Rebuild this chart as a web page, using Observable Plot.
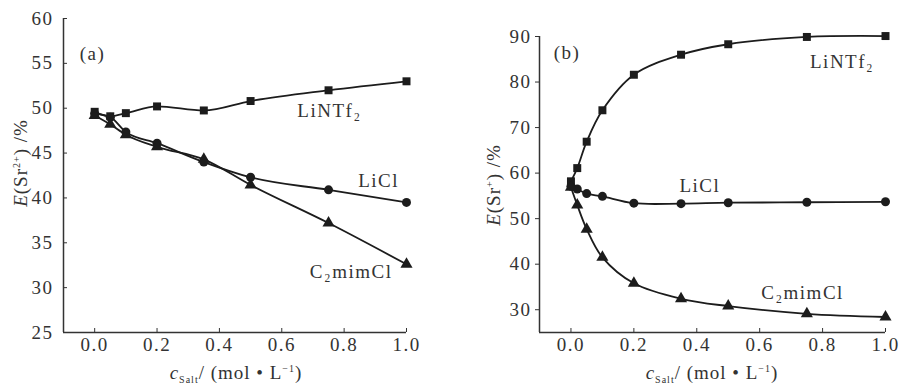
<!DOCTYPE html>
<html><head><meta charset="utf-8">
<script src="https://cdn.jsdelivr.net/npm/d3@7"></script>
<script src="https://cdn.jsdelivr.net/npm/@observablehq/plot@0.6"></script>
<style>
body{margin:0;background:#fff;}
#wrap{display:flex;width:901px;height:385px;overflow:hidden;}
svg text{font-family:"Liberation Serif","Times New Roman",serif !important;}
</style></head><body><div id="wrap"></div>
<script>
// Panel (a)
const concA = [0, 0.05, 0.1, 0.2, 0.35, 0.5, 0.75, 1.0];
const aLiNTf2 = [49.6, 49.1, 49.45, 50.2, 49.75, 50.8, 52.0, 53.0];
const aLiCl = [49.4, 49.0, 47.35, 46.1, 44.0, 42.3, 40.9, 39.5];
const aC2mimCl = [49.2, 48.2, 47.05, 45.7, 44.3, 41.45, 37.2, 32.6];
// Panel (b)
const concB = [0, 0.02, 0.05, 0.1, 0.2, 0.35, 0.5, 0.75, 1.0];
const bLiNTf2 = [58.2, 61.1, 66.9, 73.8, 81.6, 86.0, 88.3, 89.9, 90.1];
const bLiCl = [57.1, 56.5, 55.5, 54.9, 53.4, 53.3, 53.5, 53.6, 53.7];
const bC2mimCl = [56.9, 53.0, 47.7, 41.5, 35.8, 32.4, 30.8, 29.1, 28.4];

const seriesNames = ["LiNTf2", "LiCl", "C2mimCl"];
const seriesSymbols = ["square", "circle", "triangle"];
const xDomain = [-0.1, 1.0];
const xTicks = [0, 0.2, 0.4, 0.6, 0.8, 1.0];
const yDomainA = [25, 60];
const yDomainB = [25, 90];
const yTicksA = [25, 30, 35, 40, 45, 50, 55, 60];
const yTicksB = [30, 40, 50, 60, 70, 80, 90];

// annotation labels (data-space anchors)
const labelsA = [
  {x: -0.048, y: 56.0, t: "(a)"},
  {x: 0.65, y: 49.7, t: "LiNTf₂"},
  {x: 0.845, y: 41.9, t: "LiCl"},
  {x: 0.69, y: 31.7, t: "C₂mimCl"}
];
const labelsB = [
  {x: -0.055, y: 86.5, t: "(b)"},
  {x: 0.76, y: 84.5, t: "LiNTf₂"},
  {x: 0.345, y: 57.3, t: "LiCl"},
  {x: 0.605, y: 33.6, t: "C₂mimCl"}
];

function rows(conc, sets) {
  const out = [];
  sets.forEach((vals, k) => conc.forEach((c, i) => out.push({c, v: vals[i], s: seriesNames[k]})));
  return out;
}

const ink = "#1c1c1c";
const txt = "#333";
const FONT = 19;

function panel(o) {
  const data = rows(o.conc, o.sets);
  return Plot.plot({
    width: o.width, height: 385,
    marginLeft: o.ml, marginRight: o.mr, marginTop: o.mt, marginBottom: 53,
    x: {domain: xDomain},
    y: {domain: o.yDomain},
    symbol: {domain: seriesNames, range: seriesSymbols},
    style: {fontFamily: "'Liberation Serif', serif", fontSize: FONT + "px", color: txt, letterSpacing: "1.5px", background: "#fff"},
    marks: [
      Plot.axisX({ticks: xTicks, tickFormat: d3.format(".1f"), tickSize: -4, tickPadding: 9, label: null, stroke: "#333", fill: txt, fontSize: FONT}),
      Plot.axisY({ticks: o.yTicks, tickSize: o.yts, tickPadding: o.ytp, label: null, stroke: "#333", fill: txt, fontSize: FONT}),
      Plot.ruleX([xDomain[0]], {y1: o.yDomain[0], y2: o.yDomain[1], stroke: "#333", strokeWidth: 1.5}),
      Plot.ruleY([o.yDomain[0]], {x1: xDomain[0], x2: xDomain[1], stroke: "#333", strokeWidth: 1.5}),
      Plot.line(data, {x: "c", y: "v", z: "s", stroke: ink, strokeWidth: 1.8, curve: o.curve}),
      Plot.dot(data, {x: "c", y: "v", symbol: "s", fill: ink, stroke: "none", r: o.r}),
      Plot.text(o.labels, {x: "x", y: "y", text: "t", textAnchor: "start", fill: txt, fontSize: FONT})
    ]
  });
}

function addAxisTitles(svg, xc, ycx, ycy, sup) {
  const s = d3.select(svg);
  const t = s.append("text").attr("x", xc).attr("y", 379).attr("text-anchor", "middle")
    .attr("font-size", FONT).attr("fill", txt).style("letter-spacing", "1px");
  t.append("tspan").attr("font-style", "italic").text("c");
  t.append("tspan").attr("font-size", 10).attr("dy", 4).text("Salt");
  t.append("tspan").attr("dy", -4).text("/ (mol • L");
  t.append("tspan").attr("font-size", 10).attr("dy", -7).text("−1");
  t.append("tspan").attr("dy", 7).text(")");
  const y = s.append("text").attr("transform", `translate(${ycx},${ycy}) rotate(-90)`)
    .attr("text-anchor", "middle").attr("dy", "0.35em")
    .attr("font-size", FONT).attr("fill", txt).style("letter-spacing", "1px");
  y.append("tspan").attr("font-style", "italic").text("E");
  y.append("tspan").text("(Sr");
  y.append("tspan").attr("font-size", 10).attr("dy", -7).text(sup);
  y.append("tspan").attr("dy", 7).text(") /%");
}

const pa = panel({conc: concA, sets: [aLiNTf2, aLiCl, aC2mimCl], width: 450, ml: 63, mr: 44, mt: 18,
  yDomain: yDomainA, yTicks: yTicksA, yts: -4, ytp: 14, labels: labelsA, curve: "monotone-x", r: 4.5});
const pb = panel({conc: concB, sets: [bLiNTf2, bLiCl, bC2mimCl], width: 451, ml: 89, mr: 16, mt: 36,
  yDomain: yDomainB, yTicks: yTicksB, yts: 4, ytp: 4, labels: labelsB, curve: "catmull-rom", r: 4.5});

addAxisTitles(pa, 236, 20, 163, "2+");
addAxisTitles(pb, 262, 43, 185, "+");

const wrap = document.getElementById("wrap");
wrap.appendChild(pa);
wrap.appendChild(pb);
</script></body></html>
